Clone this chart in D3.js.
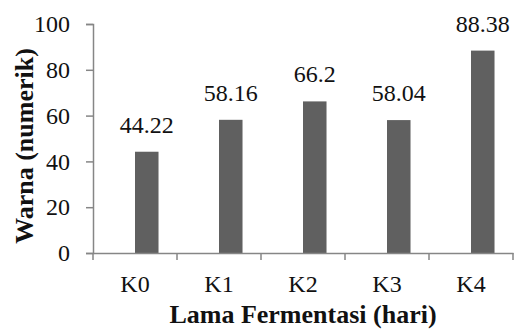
<!DOCTYPE html>
<html><head><meta charset="utf-8">
<script src="https://cdn.jsdelivr.net/npm/d3@7"></script>
<style>body{margin:0;background:#fff}svg{display:block}</style>
</head><body>
<svg id="c" width="514" height="335" font-family="Liberation Serif"></svg>
<script>
const categories = ["K0","K1","K2","K3","K4"];
const values = [44.22, 58.16, 66.2, 58.04, 88.38];
const valueLabels = ["44.22","58.16","66.2","58.04","88.38"];
const yTicks = [0,20,40,60,80,100];
const yTitle = "Warna (numerik)";
const xTitle = "Lama Fermentasi (hari)";

(function(){
const svg = d3.select("#c");
const mL = 93, mR = 513, mT = 24, mB = 253;
const axisColor = "#868686";
const txt = "#111";

const x = d3.scaleBand().domain(categories).range([mL, mR]).padding(0);
const y = d3.scaleLinear().domain([0,100]).range([mB, mT]);

// y axis
const ya = svg.append("g").attr("transform", `translate(${mL},0)`)
  .call(d3.axisLeft(y).tickValues(yTicks).tickSize(7).tickPadding(16).tickFormat(d3.format("d")));
ya.select(".domain").attr("stroke", axisColor).attr("stroke-width", 1.5);
ya.selectAll(".tick line").attr("stroke", axisColor).attr("stroke-width", 1.5);
ya.selectAll("text").attr("font-size", 24).attr("fill", txt);

// bars
const barW = x.bandwidth() * 0.28;
svg.append("g").selectAll("rect").data(values).join("rect")
  .attr("x", (d,i) => x(categories[i]) + x.bandwidth()/2)
  .attr("y", d => y(d))
  .attr("width", barW)
  .attr("height", d => mB - y(d))
  .attr("fill", "#606060");

// value labels
svg.append("g").selectAll("text").data(values).join("text")
  .attr("x", (d,i) => x(categories[i]) + x.bandwidth()/2 + barW/2)
  .attr("y", d => y(d) - 19)
  .attr("text-anchor", "middle")
  .attr("font-size", 24).attr("fill", txt)
  .text((d,i) => valueLabels[i]);

// x axis
const xa = svg.append("g").attr("transform", `translate(0,${mB})`)
  .call(d3.axisBottom(x).tickSize(0).tickPadding(22));
xa.select(".domain").attr("stroke", axisColor).attr("stroke-width", 1.5);
xa.selectAll("text").attr("font-size", 24).attr("fill", txt);
const bounds = categories.map(c => x(c)).concat([mR]);
svg.append("g").selectAll("line").data(bounds).join("line")
  .attr("x1", d => d).attr("x2", d => d)
  .attr("y1", mB).attr("y2", mB + 7)
  .attr("stroke", axisColor).attr("stroke-width", 1.5);

// titles
svg.append("text").attr("x", (mL+mR)/2).attr("y", 323).attr("text-anchor", "middle")
  .attr("font-size", 26).attr("font-weight", "bold").attr("fill", txt)
  .text(xTitle);
svg.append("text").attr("transform", `translate(33,146) rotate(-90)`)
  .attr("text-anchor", "middle")
  .attr("font-size", 26).attr("font-weight", "bold").attr("fill", txt)
  .text(yTitle);

svg.selectAll("g").attr("font-family", null);
svg.selectAll("text").attr("font-family", "Liberation Serif");
})();
</script>
</body></html>
